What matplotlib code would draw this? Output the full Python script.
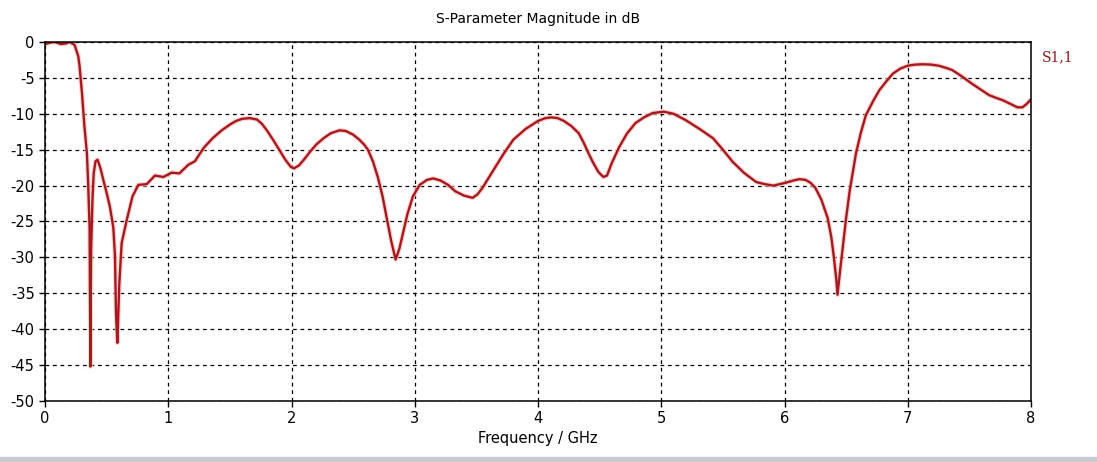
import matplotlib
matplotlib.use("Agg")
import matplotlib.pyplot as plt
from matplotlib.patches import Rectangle

plt.rcParams["axes.unicode_minus"] = False

# S11 magnitude (GHz, dB)
freq_ghz = [0.00, 0.04, 0.07, 0.10, 0.13, 0.17, 0.20, 0.24, 0.27, 0.28, 0.30, 0.32, 0.34,
            0.35, 0.362, 0.368, 0.374, 0.385, 0.395, 0.41, 0.427, 0.45, 0.473, 0.50, 0.527,
            0.554, 0.568, 0.576, 0.587, 0.603, 0.622, 0.663, 0.71, 0.757, 0.825, 0.892,
            0.96, 1.028, 1.09, 1.163, 1.217, 1.285, 1.36, 1.434, 1.50, 1.55, 1.60, 1.66,
            1.72, 1.76, 1.80, 1.85, 1.90, 1.95, 1.995, 2.02, 2.06, 2.10, 2.15, 2.20, 2.26,
            2.32, 2.39, 2.44, 2.50, 2.55, 2.59, 2.62, 2.66, 2.70, 2.74, 2.77, 2.81, 2.845,
            2.875, 2.905, 2.94, 2.985, 3.04, 3.10, 3.15, 3.21, 3.27, 3.33, 3.40, 3.47, 3.51,
            3.55, 3.60, 3.64, 3.72, 3.80, 3.90, 4.00, 4.06, 4.11, 4.16, 4.21, 4.27, 4.33,
            4.37, 4.41, 4.45, 4.49, 4.53, 4.56, 4.60, 4.66, 4.72, 4.79, 4.86, 4.93, 5.02,
            5.10, 5.20, 5.31, 5.42, 5.50, 5.58, 5.67, 5.77, 5.84, 5.91, 5.96, 6.01, 6.07,
            6.12, 6.17, 6.21, 6.25, 6.30, 6.35, 6.38, 6.40, 6.42, 6.43, 6.45, 6.47, 6.50,
            6.53, 6.58, 6.62, 6.66, 6.72, 6.77, 6.83, 6.88, 6.94, 7.00, 7.06, 7.12, 7.19,
            7.25, 7.31, 7.36, 7.44, 7.52, 7.59, 7.66, 7.72, 7.77, 7.83, 7.89, 7.93, 7.96,
            8.00]
s11_db = [-0.3, -0.1, 0.0, -0.1, -0.3, -0.2, 0.0, -0.4, -2.0, -3.3, -7.1, -11.8, -15.5,
          -19.6, -26.0, -45.2, -29.0, -22.0, -18.3, -16.6, -16.4, -17.6, -19.2, -21.0, -23.0,
          -25.8, -29.9, -37.8, -41.9, -33.6, -28.0, -24.8, -21.5, -19.9, -19.8, -18.6,
          -18.8, -18.2, -18.3, -17.1, -16.6, -14.8, -13.4, -12.3, -11.5, -11.0, -10.7, -10.6,
          -10.8, -11.4, -12.3, -13.6, -15.0, -16.4, -17.4, -17.6, -17.2, -16.4, -15.3, -14.3, -13.4,
          -12.7, -12.3, -12.4, -12.9, -13.6, -14.3, -15.0, -16.6, -18.8, -21.6, -24.3, -27.8, -30.3,
          -28.8, -26.6, -24.0, -21.5, -19.9, -19.2, -19.0, -19.3, -19.9, -20.8, -21.4, -21.7, -21.2,
          -20.3, -18.9, -17.8, -15.6, -13.6, -12.1, -11.0, -10.6, -10.5, -10.6, -11.0, -11.7, -12.7,
          -14.0, -15.5, -16.9, -18.1, -18.8, -18.6, -16.8, -14.6, -12.8, -11.3, -10.5, -9.9, -9.7,
          -10.0, -10.9, -12.1, -13.4, -15.0, -16.7, -18.2, -19.5, -19.8, -20.0, -19.8, -19.6, -19.3,
          -19.1, -19.2, -19.6, -20.3, -22.0, -24.5, -27.2, -29.9, -33.0, -35.2, -32.0, -29.0, -24.5,
          -20.6, -15.5, -12.6, -10.2, -8.2, -6.7, -5.4, -4.4, -3.7, -3.3, -3.15, -3.1, -3.15,
          -3.3, -3.6, -3.9, -4.8, -5.8, -6.6, -7.4, -7.8, -8.1, -8.6, -9.1, -9.1, -8.7,
          -8.0]

x_ticks = [0, 1, 2, 3, 4, 5, 6, 7, 8]
y_ticks = [0, -5, -10, -15, -20, -25, -30, -35, -40, -45, -50]

fig = plt.figure(figsize=(10.97, 4.62), dpi=100)
ax = fig.add_axes([45 / 1097, 61 / 462, 986 / 1097, 359 / 462])

# soft halo + dark red core, like the anti-aliased CST trace
ax.plot(freq_ghz, s11_db, color="#f6c4c4", lw=3.4, alpha=0.7, solid_joinstyle="round")
ax.plot(freq_ghz, s11_db, color="#a8181c", lw=1.7, solid_joinstyle="round")

ax.set_xlim(0, 8)
ax.set_ylim(-50, 0)
ax.set_xticks(x_ticks)
ax.set_yticks(y_ticks)
ax.grid(True, color="black", ls=(0, (3, 3)), lw=0.9)
ax.tick_params(direction="out", length=4, width=1, labelsize=10.5, colors="black")
for s in ax.spines.values():
    s.set_color("black")
    s.set_linewidth(1.1)

ax.set_title("S-Parameter Magnitude in dB", fontsize=10, pad=14)
ax.set_xlabel("Frequency / GHz", fontsize=10.5, labelpad=3)

fig.text(1058 / 1097, 1 - 57 / 462, "S1,1", color="#8b1a1a", fontsize=10,
         family="DejaVu Serif", ha="center", va="center")

# window frame strip along the bottom edge
fig.patches.append(Rectangle((0, 0), 1, 5 / 462, transform=fig.transFigure,
                             color="#c8ccd0", zorder=0))

fig.savefig("out.png", dpi=100)
